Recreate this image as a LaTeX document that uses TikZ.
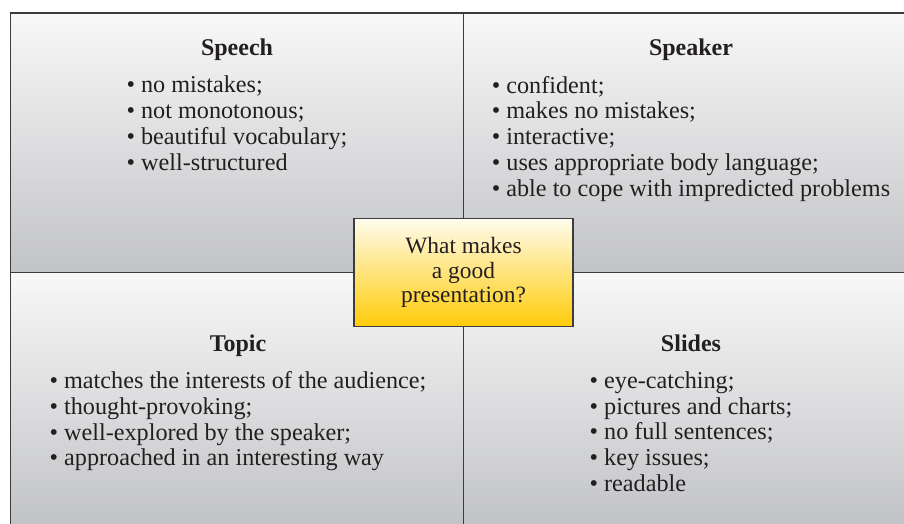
\documentclass[tikz,border=0pt]{standalone}
\usepackage{fontspec}
\setmainfont{Liberation Serif}
\usetikzlibrary{positioning}
\definecolor{grigioChiaro}{HTML}{F8F8F8}
\definecolor{grigioScuro}{HTML}{C2C3C6}
\definecolor{gialloChiaro}{HTML}{FFFCEE}
\definecolor{gialloScuro}{HTML}{FFCB08}
\definecolor{linea}{HTML}{3C3C3C}
\definecolor{testo}{HTML}{231F20}
\newcommand{\voce}{\textbullet\ }

\begin{document}
\begin{tikzpicture}[x = 0.5pt, y = -0.5pt,
    titolo/.style = {font = \fontsize{12}{13}\selectfont\bfseries, text = testo, anchor = base, inner sep = 0pt, text height = 8.5pt, text depth = 3pt},
    elenco/.style = {font = \fontsize{12.1}{12.9}\selectfont, text = testo, align = left, inner sep = 0pt},
    quadrante/.style = {top color = grigioChiaro, bottom color = grigioScuro},
    bordo/.style = {draw = linea, line width = 0.75pt}]
    % Parametri
    \pgfmathsetmacro{\xsx}{10.5}
    \pgfmathsetmacro{\xmid}{463.5}
    \pgfmathsetmacro{\xdx}{904}
    \pgfmathsetmacro{\ysu}{13}
    \pgfmathsetmacro{\ymid}{272.5}
    \pgfmathsetmacro{\ygiu}{524}
    \useasboundingbox (0,0) rectangle (904,524);
    % Quadranti
    \shade[quadrante] (\xsx,\ysu) rectangle (\xdx,\ymid);
    \shade[quadrante] (\xsx,\ymid) rectangle (\xdx,\ygiu);
    \draw[bordo] (\xsx,\ygiu) -- (\xsx,\ysu) -- (\xdx,\ysu);
    \draw[bordo] (\xmid,\ysu) -- (\xmid,\ygiu);
    \draw[bordo] (\xsx,\ymid) -- (\xdx,\ymid);
    % Titoli
    \node[titolo] (speech) at (237,56){Speech};
    \node[titolo] (speaker) at (691,56){Speaker};
    \node[titolo] (topic) at (238,351.5){Topic};
    \node[titolo] (slides) at (691,351.5){Slides};
    % Elenchi
    \node[elenco, below = 6.6pt of speech] (speechL){\voce no mistakes;\\ \voce not monotonous;\\ \voce beautiful vocabulary;\\ \voce well-structured};
    \node[elenco, below = 6.6pt of speaker] (speakerL){\voce confident;\\ \voce makes no mistakes;\\ \voce interactive;\\ \voce uses appropriate body language;\\ \voce able to cope with impredicted problems};
    \node[elenco, below = 6.6pt of topic] (topicL){\voce matches the interests of the audience;\\ \voce thought-provoking;\\ \voce well-explored by the speaker;\\ \voce approached in an interesting way};
    \node[elenco, below = 6.6pt of slides] (slidesL){\voce eye-catching;\\ \voce pictures and charts;\\ \voce no full sentences;\\ \voce key issues;\\ \voce readable};
    % Riquadro centrale
    \node[bordo, top color = gialloChiaro, bottom color = gialloScuro, minimum width = 109.5pt, minimum height = 54pt, align = center, text = testo, font = \fontsize{11.7}{12.3}\selectfont] (domanda) at (\xmid,\ymid){What makes\\a good\\presentation?};
\end{tikzpicture}
\end{document}
